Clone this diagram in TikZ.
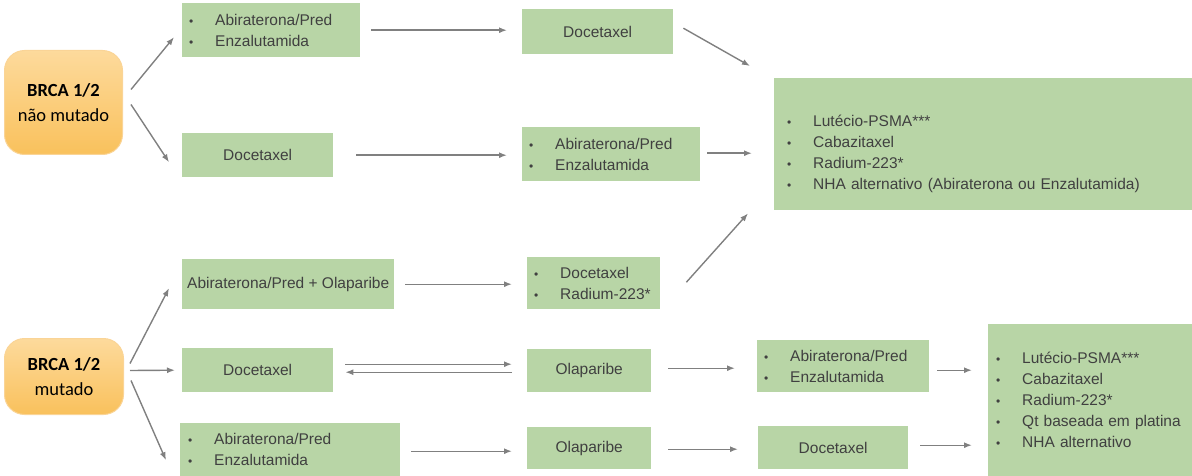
\documentclass[tikz,border=0pt]{standalone}
\usepackage{fontspec}
\setmainfont{Liberation Sans}
\newfontfamily\brcafont{Carlito}
\usetikzlibrary{calc,arrows.meta}
\definecolor{boxgreen}{RGB}{184,213,166}
\definecolor{txtgray}{RGB}{64,64,64}
\definecolor{arrgray}{RGB}{128,128,128}
\definecolor{orgtop}{RGB}{253,218,156}
\definecolor{orgbot}{RGB}{249,193,92}
\definecolor{orgline}{RGB}{250,212,150}
\newcommand{\bl}{\makebox[26pt][l]{\fontsize{12}{12}\selectfont\textbullet}}
\begin{document}
\begin{tikzpicture}[x=1pt,y=-1pt,
 gbox/.style={fill=boxgreen, draw=none, text=txtgray, font=\fontsize{15.5}{21}\selectfont, anchor=north west, inner sep=0pt},
 glist/.style={gbox, align=left, inner ysep=0pt},
 obox/.style={rounded corners=20pt, top color=orgtop, bottom color=orgbot, draw=orgline, line width=1pt, font=\brcafont\fontsize{18.5}{25}\selectfont, align=center, anchor=north west, inner sep=0pt},
 arr/.style={draw=arrgray, line width=1.4pt, -{Latex[length=8pt,width=6pt]}}]
\useasboundingbox (0,0) rectangle (1192,476);

% orange start nodes
\node[obox, minimum width=118pt, minimum height=104pt] (n1) at (4,50) {\textbf{BRCA 1/2}\\não mutado};
\node[obox, minimum width=119pt, minimum height=76pt] (n2) at (4,338) {\textbf{BRCA 1/2}\\mutado};

% upper branch
\node[glist, inner xsep=7pt, text width=164pt, minimum height=54pt] (a1) at (182,3) {\bl Abiraterona/Pred\\\bl Enzalutamida};
\node[gbox, minimum width=151pt, minimum height=44pt] (d2) at (182,133) {Docetaxel};
\node[gbox, minimum width=151pt, minimum height=45pt] (dt) at (522,9) {Docetaxel};
\node[glist, inner xsep=7pt, text width=164pt, minimum height=54pt] (ae2) at (522,127) {\bl Abiraterona/Pred\\\bl Enzalutamida};
\node[glist, inner xsep=13pt, text width=392pt, minimum height=132pt] (big) at (774,78) {\rule{0pt}{30pt}\bl Lutécio-PSMA***\\\bl Cabazitaxel\\\bl Radium-223*\\\bl NHA alternativo (Abiraterona ou Enzalutamida)};

% lower branch
\node[gbox, minimum width=212pt, minimum height=50pt] (ao) at (182,259) {Abiraterona/Pred + Olaparibe};
\node[glist, inner xsep=7pt, text width=119pt, minimum height=52pt] (dr) at (527,257) {\bl Docetaxel\\\bl Radium-223*};
\node[gbox, minimum width=151pt, minimum height=44pt] (d4) at (182,348) {Docetaxel};
\node[gbox, minimum width=124pt, minimum height=43pt] (o4) at (527,349) {Olaparibe};
\node[glist, inner xsep=7pt, text width=158pt, minimum height=52pt] (ae4) at (757,340) {\bl Abiraterona/Pred\\\bl Enzalutamida};
\node[glist, inner xsep=8pt, text width=188pt, minimum height=152pt] (bb) at (988,324) {\bl Lutécio-PSMA***\\\bl Cabazitaxel\\\bl Radium-223*\\\bl Qt baseada em platina\\\bl NHA alternativo};
\node[glist, inner xsep=8pt, text width=204pt, minimum height=53pt] (ae5) at (180,423) {\bl Abiraterona/Pred\\\bl Enzalutamida};
\node[gbox, minimum width=124pt, minimum height=42pt] (o5) at (527,427) {Olaparibe};
\node[gbox, minimum width=150pt, minimum height=43pt] (d5) at (758,426) {Docetaxel};

% connectors
\draw[arr] ($(n1.east)+(8,-13)$) -- ($(a1.west)+(-8,7)$);
\draw[arr] ($(n1.east)+(8,2)$) -- ($(d2.west)+(-13,7)$);
\draw[arr] ($(a1.east)+(11,0)$) -- ($(dt.west |- a1.east)+(-15,0)$);
\draw[arr] ($(dt.east)+(10,-3.5)$) -- ($(big.north west)+(-24,-12)$);
\draw[arr] ($(d2.east)+(23,0)$) -- ($(ae2.west |- d2.east)+(-15,0)$);
\draw[arr] ($(ae2.east)+(7,-1)$) -- ($(big.west |- ae2.east)+(-22,-1)$);
\draw[arr] ($(ao.east)+(11,0)$) -- ($(dr.west |- ao.east)+(-15,0)$);
\draw[arr] ($(dr.east)+(26,-1)$) -- ($(big.south west)+(-26,3)$);
\draw[arr] ($(n2.east)+(6,-13)$) -- ($(ao.west)+(-13,4)$);
\draw[arr] ($(n2.east)+(6,-6)$) -- ($(d4.west)+(-7,0)$);
\draw[arr] ($(n2.east)+(7,4)$) -- ($(ae5.west)+(-14,10.5)$);
\draw[arr] ($(d4.east)+(12,-6)$) -- ($(o4.west |- d4.east)+(-15,-6)$);
\draw[arr] ($(o4.west |- d4.east)+(-15,2)$) -- ($(d4.east)+(12,2)$);
\draw[arr] ($(o4.east)+(17,-2.5)$) -- ($(ae4.west |- o4.east)+(-22,-2.5)$);
\draw[arr] ($(ae4.east)+(8,4)$) -- ($(bb.west |- ae4.east)+(-16,4)$);
\draw[arr] ($(ae5.east)+(11,1.5)$) -- ($(o5.west |- ae5.east)+(-15,1.5)$);
\draw[arr] ($(o5.east)+(17,1)$) -- ($(d5.west |- o5.east)+(-20,1)$);
\draw[arr] ($(d5.east)+(12,-2.5)$) -- ($(bb.west |- d5.east)+(-16,-2.5)$);
\end{tikzpicture}
\end{document}
